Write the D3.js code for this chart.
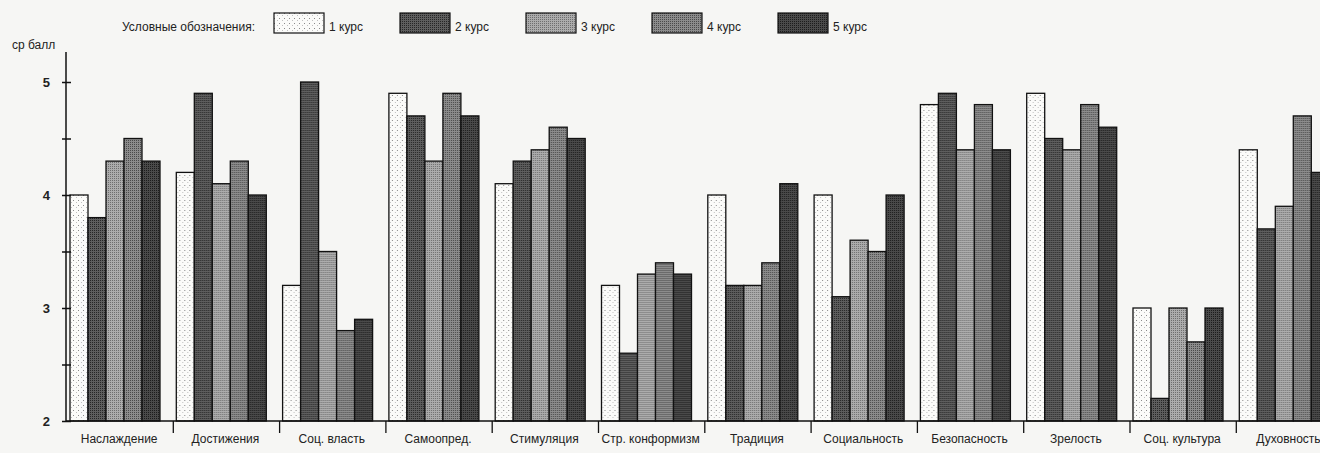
<!DOCTYPE html>
<html>
  <head>
    <meta charset="utf-8">
    <script src="https://d3js.org/d3.v7.min.js"></script>
    <style>
      body { margin: 0; background-color: #f6f6f4; }
      text { font-family: "Liberation Sans", Arial, sans-serif; fill: #222; }
    </style>
  </head>
  <body>
    <svg id="canvas" width="1320" height="453"></svg>
  </body>
  <script>
    const categories = ['Наслаждение', 'Достижения', 'Соц. власть', 'Самоопред.', 'Стимуляция',
      'Стр. конформизм', 'Традиция', 'Социальность', 'Безопасность', 'Зрелость', 'Соц. культура', 'Духовность']
    const courses = ['1 курс', '2 курс', '3 курс', '4 курс', '5 курс']

    const kurs1 = [4.0, 4.2, 3.2, 4.9, 4.1, 3.2, 4.0, 4.0, 4.8, 4.9, 3.0, 4.4]
    const kurs2 = [3.8, 4.9, 5.0, 4.7, 4.3, 2.6, 3.2, 3.1, 4.9, 4.5, 2.2, 3.7]
    const kurs3 = [4.3, 4.1, 3.5, 4.3, 4.4, 3.3, 3.2, 3.6, 4.4, 4.4, 3.0, 3.9]
    const kurs4 = [4.5, 4.3, 2.8, 4.9, 4.6, 3.4, 3.4, 3.5, 4.8, 4.8, 2.7, 4.7]
    const kurs5 = [4.3, 4.0, 2.9, 4.7, 4.5, 3.3, 4.1, 4.0, 4.4, 4.6, 3.0, 4.2]
    const series = [kurs1, kurs2, kurs3, kurs4, kurs5]

    const yTicks = [2, 2.5, 3, 3.5, 4, 4.5, 5]

    const svg = d3.select('#canvas')
    const defs = svg.append('defs')

    // stipple fills to imitate the printed halftone
    const fills = [
      { base: '#fbfbf9', dot: '#8a8a8a', size: 5 },
      { base: '#5e5e5e', dot: '#262626', size: 2 },
      { base: '#acacac', dot: '#6e6e6e', size: 2 },
      { base: '#8c8c8c', dot: '#4a4a4a', size: 2 },
      { base: '#4a4a4a', dot: '#1c1c1c', size: 2 }
    ]
    fills.forEach((f, i) => {
      const p = defs.append('pattern')
        .attr('id', 'fill' + i)
        .attr('patternUnits', 'userSpaceOnUse')
        .attr('width', f.size).attr('height', f.size)
      p.append('rect').attr('width', f.size).attr('height', f.size).attr('fill', f.base)
      p.append('rect').attr('x', 0).attr('y', 0).attr('width', 1).attr('height', 1).attr('fill', f.dot)
      if (f.size > 2) {
        p.append('rect').attr('x', 3).attr('y', 2).attr('width', 1).attr('height', 1).attr('fill', '#c0c0c0')
      }
    })

    const axisX = 66
    const x = d3.scaleBand().domain(categories).range([68, 68 + 12 * 106.3])
    const inner = d3.scaleBand().domain(courses).range([2, 92])
    const y = d3.scaleLinear().domain([2, 5]).range([421, 82])

    const g = svg.append('g')

    // bars
    const groups = g.selectAll('g.cat')
      .data(categories)
      .join('g')
      .attr('class', 'cat')
      .attr('transform', d => `translate(${x(d)},0)`)

    groups.selectAll('rect')
      .data((d, ci) => courses.map((c, si) => ({ course: c, si: si, value: series[si][ci] })))
      .join('rect')
      .attr('x', d => inner(d.course))
      .attr('width', inner.bandwidth())
      .attr('y', d => y(d.value))
      .attr('height', d => y(2) - y(d.value))
      .attr('fill', d => `url(#fill${d.si})`)
      .attr('stroke', '#111')
      .attr('stroke-width', 1.3)

    // x baseline and group separators
    g.append('line')
      .attr('x1', axisX).attr('x2', 1320)
      .attr('y1', y(2)).attr('y2', y(2))
      .attr('stroke', '#111').attr('stroke-width', 1.5)

    g.selectAll('line.sep')
      .data(categories.slice(1))
      .join('line')
      .attr('class', 'sep')
      .attr('x1', d => x(d) - 1).attr('x2', d => x(d) - 1)
      .attr('y1', y(2)).attr('y2', y(2) + 12)
      .attr('stroke', '#111').attr('stroke-width', 1.3)

    g.selectAll('text.cat')
      .data(categories)
      .join('text')
      .attr('class', 'cat')
      .attr('x', d => x(d) + x.bandwidth() / 2 - 2)
      .attr('y', 443)
      .attr('text-anchor', 'middle')
      .attr('font-size', 12)
      .text(d => d)

    // y axis
    const yAxis = d3.axisLeft(y)
      .tickValues(yTicks)
      .tickSize(5)
      .tickFormat(d => Number.isInteger(d) ? d : '')
    const ya = g.append('g').attr('transform', `translate(${axisX},0)`).call(yAxis)
    ya.select('.domain').remove()
    ya.selectAll('.tick line').attr('x1', -4).attr('x2', 5).attr('stroke', '#111').attr('stroke-width', 1.5)
    ya.selectAll('.tick text')
      .attr('x', -16)
      .attr('font-size', 13)
      .attr('font-weight', 'bold')
      .attr('font-family', '"Liberation Sans", Arial, sans-serif')
      .attr('fill', '#222')
    g.append('line')
      .attr('x1', axisX).attr('x2', axisX)
      .attr('y1', 52).attr('y2', y(2))
      .attr('stroke', '#111').attr('stroke-width', 1.5)

    g.append('text')
      .attr('x', 12).attr('y', 49)
      .attr('font-size', 12)
      .text('ср балл')

    // legend
    const legend = svg.append('g')
    legend.append('text')
      .attr('x', 122).attr('y', 31)
      .attr('font-size', 12)
      .text('Условные обозначения:')

    const lg = legend.selectAll('g.item')
      .data(courses)
      .join('g')
      .attr('class', 'item')
      .attr('transform', (d, i) => `translate(${274 + i * 126},13)`)
    lg.append('rect')
      .attr('width', 50).attr('height', 20)
      .attr('fill', (d, i) => `url(#fill${i})`)
      .attr('stroke', '#111').attr('stroke-width', 1.2)
    lg.append('text')
      .attr('x', 55).attr('y', 18)
      .attr('font-size', 12)
      .text(d => d)
  </script>
</html>
